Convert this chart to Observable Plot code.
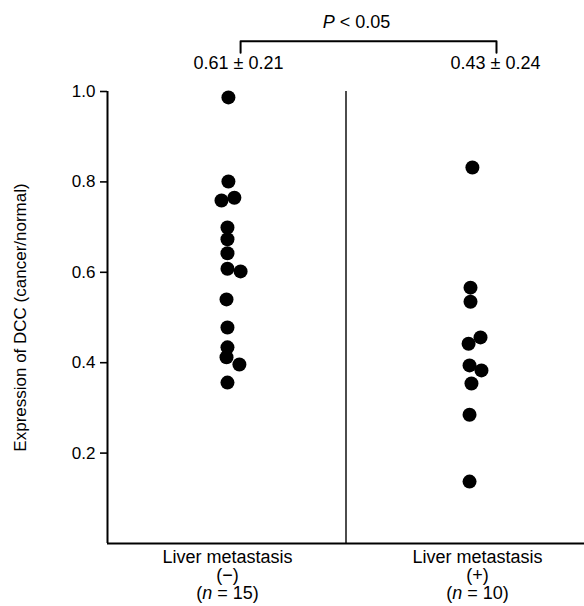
<!DOCTYPE html>
<html>
<head>
<meta charset="utf-8">
<script src="https://cdn.jsdelivr.net/npm/d3@7"></script>
<script src="https://cdn.jsdelivr.net/npm/@observablehq/plot@0.6"></script>
<style>
  html, body { margin: 0; padding: 0; background: #fff; }
  #chart { width: 584px; height: 606px; }
</style>
</head>
<body>
<div id="chart"></div>
<script>
// ---- data ----
const groupLabels = ["Liver metastasis\n(−)\n(n = 15)", "Liver metastasis\n(+)\n(n = 10)"];
const yTicks = [0.2, 0.4, 0.6, 0.8, 1.0];
const meanLabels = ["0.61 ± 0.21", "0.43 ± 0.24"];
const pLabel = "P < 0.05";
const yLabel = "Expression of DCC (cancer/normal)";

// Liver metastasis (−), n = 15
const noMetValues  = [0.987, 0.801, 0.765, 0.759, 0.699, 0.673, 0.642, 0.608, 0.602, 0.540, 0.478, 0.434, 0.412, 0.396, 0.356];
const noMetJitter  = [0.007, 0.007, 0.032, -0.022, 0.003, 0.003, 0.003, 0.003, 0.058, -0.001, 0.003, 0.003, -0.001, 0.053, 0.003];
// Liver metastasis (+), n = 10
const metValues    = [0.832, 0.566, 0.535, 0.456, 0.442, 0.394, 0.383, 0.354, 0.285, 0.137];
const metJitter    = [0.03, 0.022, 0.022, 0.064, 0.014, 0.018, 0.068, 0.026, 0.018, 0.018];

// ---- layout (x in group units: panel 1 = [0,1], panel 2 = [1,2]) ----
const groupCenter = [0.5, 1.5];
const groupLabelX = [0.503, 1.551];
const meanLabelX = [0.549, 1.627];
const bracketX = [0.558, 1.631];
const pLabelX = 1.044;
const level = { mean: 1.062, bracketEnd: 1.086, bracketTop: 1.111, p: 1.153 };

const points = [
  ...noMetValues.map((v, i) => ({x: groupCenter[0] + noMetJitter[i], y: v})),
  ...metValues.map((v, i) => ({x: groupCenter[1] + metJitter[i], y: v}))
];
const bracket = [
  {x: bracketX[0], y: level.bracketEnd},
  {x: bracketX[0], y: level.bracketTop},
  {x: bracketX[1], y: level.bracketTop},
  {x: bracketX[1], y: level.bracketEnd}
];

const font = "'Liberation Sans', Arial, Helvetica, sans-serif";

const chart = Plot.plot({
  width: 584,
  height: 606,
  marginLeft: 107,
  marginRight: 0,
  marginTop: 91,
  marginBottom: 63,
  style: {fontFamily: font, fontSize: "18px", color: "#000", background: "#fff"},
  x: {domain: [0, 2], axis: null},
  y: {domain: [0, 1], axis: null},
  marks: [
    Plot.ruleX([0], {y1: 0, y2: 1, stroke: "#000", strokeWidth: 2}),
    Plot.ruleY([0], {x1: 0, x2: 2, stroke: "#000", strokeWidth: 2}),
    Plot.ruleX([1], {y1: 0, y2: 1, stroke: "#000", strokeWidth: 1.4}),
    Plot.axisY(yTicks, {
      tickSize: 7, tickPadding: 5, tickFormat: d3.format(".1f"),
      fontSize: 17, strokeWidth: 1.6, stroke: "#000", label: null
    }),
    Plot.text([yLabel], {frameAnchor: "left", textAnchor: "middle", rotate: -90, dx: -87, fontSize: 17, fill: "#000"}),
    Plot.dot(points, {x: "x", y: "y", r: 7, fill: "#000", stroke: null}),
    Plot.text(groupLabels, {
      x: (d, i) => groupLabelX[i], y: () => 0,
      lineAnchor: "top", dy: 6, lineHeight: 1.02, fontSize: 18, fill: "#000"
    }),
    Plot.text(meanLabels, {
      x: (d, i) => meanLabelX[i], y: () => level.mean, fontSize: 18, fill: "#000"
    }),
    Plot.line(bracket, {x: "x", y: "y", stroke: "#000", strokeWidth: 2}),
    Plot.text([pLabel], {x: () => pLabelX, y: () => level.p, fontSize: 18, fill: "#000"})
  ]
});

// italic "P" and "n", as in the original
const NS = "http://www.w3.org/2000/svg";
chart.querySelectorAll("text, tspan").forEach(el => {
  if (el.children.length) return;
  const t = el.textContent;
  let m;
  if ((m = t.match(/^\((n)( = .*)$/)) || (m = t.match(/^(P)( < .*)$/))) {
    const pre = t.startsWith("(") ? "(" : "";
    el.textContent = "";
    if (pre) el.appendChild(document.createTextNode(pre));
    const it = document.createElementNS(NS, "tspan");
    it.setAttribute("font-style", "italic");
    it.textContent = m[1];
    el.appendChild(it);
    el.appendChild(document.createTextNode(m[2]));
  }
});

document.getElementById("chart").appendChild(chart);
</script>
</body>
</html>
